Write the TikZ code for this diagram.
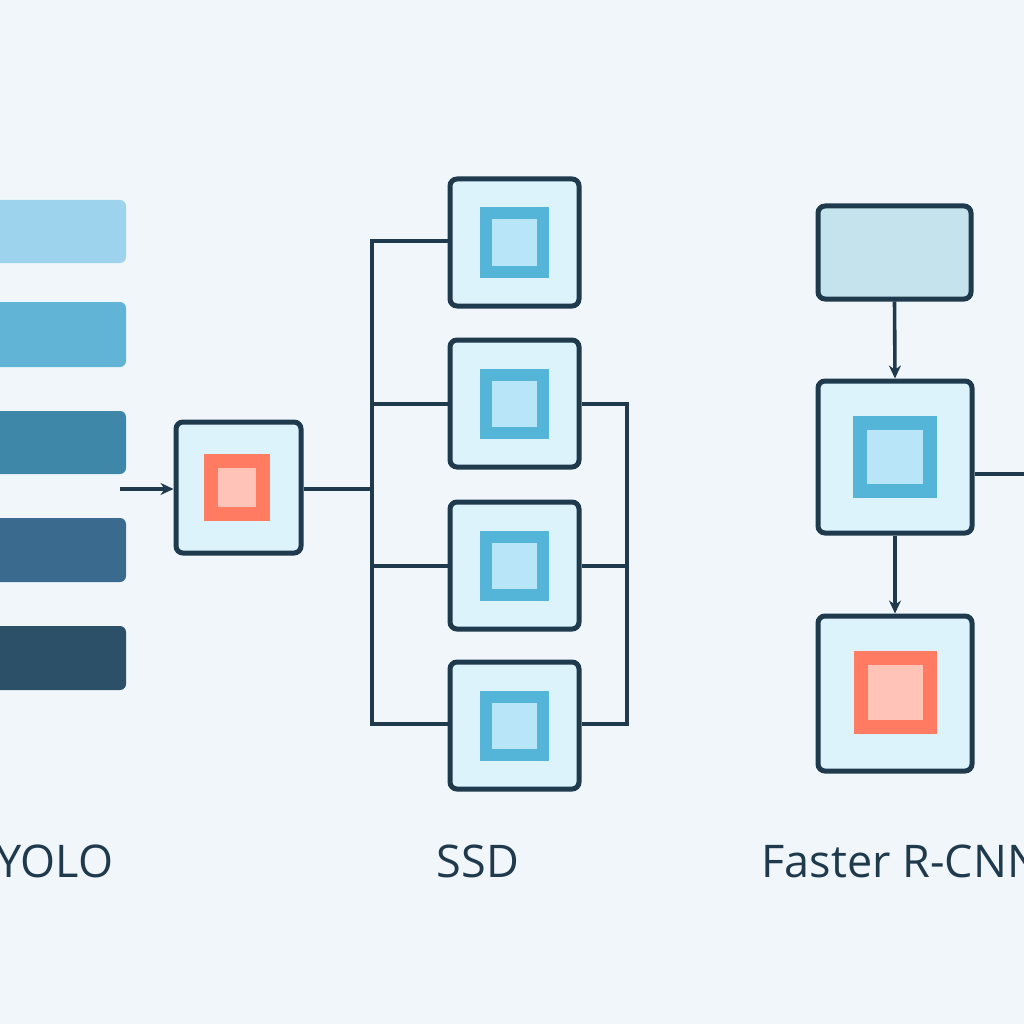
\documentclass[tikz,border=0pt]{standalone}
\usepackage{fontspec}
\setmainfont{Open Sans}
\usetikzlibrary{arrows.meta}
\definecolor{bg}{HTML}{F1F6FA}
\definecolor{ink}{HTML}{1F3A4D}
\definecolor{boxf}{HTML}{DDF3FC}
\definecolor{blo}{HTML}{55B5D8}
\definecolor{bli}{HTML}{B8E5F7}
\definecolor{rdo}{HTML}{FF7B62}
\definecolor{rdi}{HTML}{FFC3B8}
\definecolor{topf}{HTML}{C5E3EC}
\begin{document}
\begin{tikzpicture}[x=1pt,y=-1pt,
 box/.style={draw=ink,line width=5pt,fill=boxf,rounded corners=7pt},
 wire/.style={draw=ink,line width=3.6pt},
 arr/.style={wire,-{Stealth[length=13pt,width=12pt]}},
 lab/.style={font=\fontsize{45}{50}\selectfont,text=ink,anchor=base}]
\useasboundingbox (0,0) rectangle (1024,1024);
\fill[bg] (0,0) rectangle (1024,1024);
% YOLO bars
\foreach \a/\b/\c in {200/263/9DD3EC,302/367/62B4D6,411/474/3E87A8,518/582/3A6B8E,626/690/2B5068}{
 \definecolor{tmp}{HTML}{\c}\fill[tmp,rounded corners=6pt] (-20,\a) rectangle (126,\b);}
\coordinate (ys) at (120,489);
\node[box,minimum width=125pt,minimum height=131pt] (y) at (238.5,487.5) {};
\draw[arr] (ys) -- (ys -| y.west);
\fill[rdo] (204,454) rectangle (270,521);
\fill[rdi] (218,468) rectangle (256,507);
% SSD
\foreach \n/\c in {1/242.5,2/403.5,3/565.5,4/725.5}{
 \node[box,minimum width=129pt,minimum height=127pt] (s\n) at (514.5,\c) {};
 \fill[blo] (480,\c-35) rectangle (549,\c+35);
 \fill[bli] (492,\c-23) rectangle (537,\c+23);}
\coordinate (bl1) at (372,241); \coordinate (bl4) at (372,724); \coordinate (bm) at (372,489);
\draw[wire] (bm -| y.east) -- (bm);
\draw[wire] (s1.west |- 0,241) -- (bl1) -- (bl4) -- (s4.west |- 0,724);
\draw[wire] (372,404) -- (s2.west |- 0,404);
\draw[wire] (372,566) -- (s3.west |- 0,566);
\coordinate (br2) at (627,404); \coordinate (br4) at (627,724);
\draw[wire] (s2.east |- 0,404) -- (br2) -- (br4) -- (s4.east |- 0,724);
\draw[wire] (s3.east |- 0,566) -- (627,566);
% Faster R-CNN
\node[box,fill=topf,minimum width=153pt,minimum height=93pt] (f1) at (894.5,252.5) {};
\node[box,minimum width=154pt,minimum height=152pt] (f2) at (895,457) {};
\fill[blo] (853,416) rectangle (937,498);
\fill[bli] (867,430) rectangle (923,484);
\node[box,minimum width=154pt,minimum height=155pt] (f3) at (895,693.5) {};
\fill[rdo] (854,651) rectangle (937,734);
\fill[rdi] (868,665) rectangle (923,720);
\draw[arr] (f1.south) -- (f2.north);
\draw[arr] (f2.south) -- (f3.north);
\coordinate (fe) at (1030,474);
\draw[wire] (f2.east |- 0,474) -- (fe);
% labels
\node[lab] (t1) at (55,877) {YOLO};
\node[lab] (t2) at (478,877) {SSD};
\node[lab,anchor=base west] (t3) at (758,877) {Faster R-CNN};
\end{tikzpicture}
\end{document}
